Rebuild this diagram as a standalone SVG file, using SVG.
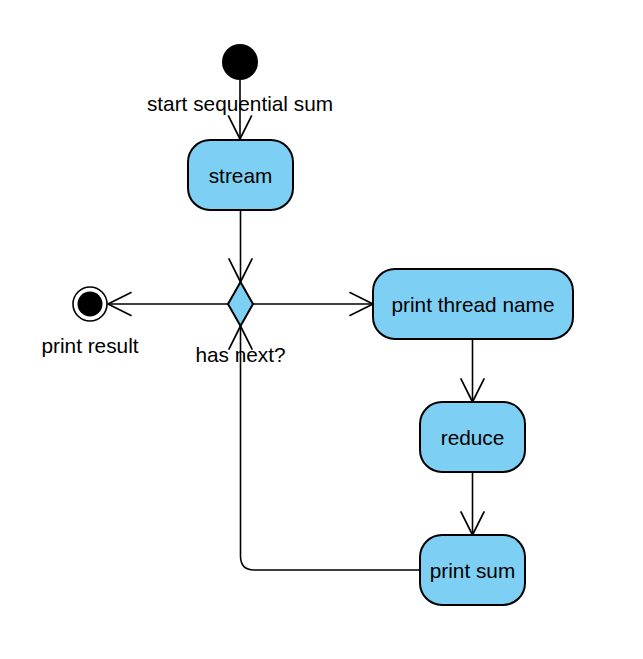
<svg xmlns="http://www.w3.org/2000/svg" width="643" height="659" viewBox="0 0 643 659">
<defs>
<style>
.node{fill:#7dd0f3;stroke:#000;stroke-width:2}
.edge{fill:none;stroke:#000;stroke-width:1.6}
text{font-family:"Liberation Sans",Arial,sans-serif;font-size:20.8px;fill:#000}
.c{text-anchor:middle}
</style>
<marker id="arr" markerUnits="userSpaceOnUse" markerWidth="30" markerHeight="30" viewBox="-24 -14 28 28" refX="0" refY="0" orient="auto">
<path d="M-22,-11 L0,0 L-22,11" fill="none" stroke="#000" stroke-width="1.6"/>
</marker>
</defs>
<rect width="643" height="659" fill="#fff"/>
<g id="connectors">
<path class="edge" d="M240,80 L240,139" marker-end="url(#arr)"/>
<path class="edge" d="M240.5,210 L240.5,282" marker-end="url(#arr)"/>
<path class="edge" d="M253,304 L373,304" marker-end="url(#arr)"/>
<path class="edge" d="M228,304 L108,304" marker-end="url(#arr)"/>
<path class="edge" d="M472.5,339 L472.5,402" marker-end="url(#arr)"/>
<path class="edge" d="M472.5,472 L472.5,535" marker-end="url(#arr)"/>
<path class="edge" d="M420,570 L254,570 Q240.5,570 240.5,556 L240.5,326" marker-end="url(#arr)"/>
</g>
<g id="start">
<circle cx="240" cy="62" r="18" fill="#000"/>
<text class="c" x="240" y="111">start sequential sum</text>
</g>
<g id="stream">
<rect class="node" x="188" y="140" width="105" height="70" rx="22"/>
<text class="c" x="240.5" y="183">stream</text>
</g>
<g id="decision">
<polygon class="node" points="240.5,282 253,304 240.5,326 228,304"/>
<text class="c" x="240.5" y="362">has next?</text>
</g>
<g id="final">
<circle cx="90" cy="304" r="17" fill="#fff" stroke="#000" stroke-width="1.6"/>
<circle cx="90" cy="304" r="12.5" fill="#000"/>
<text class="c" x="90" y="353">print result</text>
</g>
<g id="printThread">
<rect class="node" x="373" y="269" width="200" height="70" rx="22"/>
<text class="c" x="473" y="312">print thread name</text>
</g>
<g id="reduce">
<rect class="node" x="420" y="402" width="105" height="70" rx="22"/>
<text class="c" x="472.5" y="445">reduce</text>
</g>
<g id="printSum">
<rect class="node" x="420" y="535" width="105" height="70" rx="22"/>
<text class="c" x="472.5" y="578">print sum</text>
</g>
</svg>
